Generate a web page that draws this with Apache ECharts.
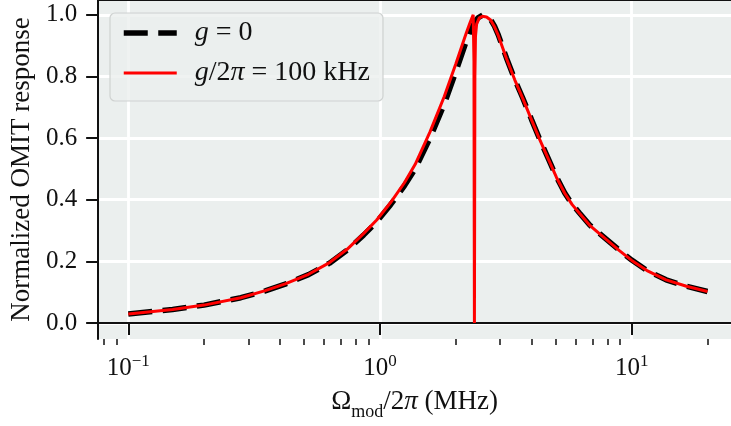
<!DOCTYPE html>
<html>
<head>
<meta charset="utf-8">
<script src="https://cdn.jsdelivr.net/npm/echarts@6/dist/echarts.min.js"></script>
<style>
  html, body { margin: 0; padding: 0; background: #ffffff; }
  #chart { width: 731px; height: 426px; }
</style>
</head>
<body>
<div id="chart"></div>
<script>
// Modulation frequency (MHz) and normalized OMIT response, uncoupled case
const freqG0 = [0.1, 0.15, 0.2, 0.28, 0.35, 0.42, 0.52, 0.63, 0.74, 0.86,
  0.97, 1.1, 1.25, 1.38, 1.58, 1.8, 2.0, 2.2, 2.3, 2.4,
  2.45, 2.57, 2.65, 2.75, 2.85, 2.95, 3.18, 3.43, 3.69, 4.0,
  4.29, 4.7, 5.02, 5.42, 5.8, 6.2, 6.81, 7.46, 8.96, 10, 11.5,
  13.7, 16.5, 20];
const respG0 = [0.029, 0.044, 0.058, 0.082, 0.104, 0.126, 0.157, 0.194, 0.236, 0.285,
  0.328, 0.383, 0.445, 0.500, 0.600, 0.710, 0.815, 0.913, 0.955, 0.980,
  0.990, 1.000, 0.995, 0.985, 0.963, 0.935, 0.860, 0.790, 0.730, 0.660,
  0.600, 0.527, 0.474, 0.422, 0.385, 0.357, 0.318, 0.290, 0.235, 0.204, 0.170,
  0.140, 0.119, 0.102];

// Same quantity with g/2π = 100 kHz (narrow dip near 2.37 MHz)
const freqG100 = [0.1, 0.15, 0.2, 0.28, 0.35, 0.42, 0.52, 0.63, 0.74, 0.86,
  0.97, 1.1, 1.25, 1.38, 1.58, 1.8, 2.0, 2.2, 2.28, 2.345,
  2.362, 2.368, 2.372, 2.376, 2.382, 2.395, 2.42, 2.48, 2.55, 2.65,
  2.75, 2.85, 2.95, 3.18, 3.43, 3.69, 4.0, 4.29, 4.7, 5.02,
  5.42, 5.8, 6.2, 6.81, 7.46, 8.96, 10, 11.5, 13.7, 16.5, 20];
const respG100 = [0.029, 0.044, 0.058, 0.082, 0.105, 0.127, 0.158, 0.196, 0.239, 0.290,
  0.334, 0.390, 0.455, 0.515, 0.620, 0.735, 0.840, 0.940, 0.975, 1.000,
  0.850, 0.300, 0.000, 0.300, 0.800, 0.930, 0.970, 0.990, 0.995, 0.993,
  0.983, 0.961, 0.933, 0.858, 0.789, 0.729, 0.659, 0.599, 0.526, 0.473,
  0.421, 0.384, 0.356, 0.317, 0.289, 0.234, 0.203, 0.170, 0.140, 0.119, 0.102];

const seriesNames = ['g = 0', 'g/2π = 100 kHz'];
const majorTicksX = [0.1, 1, 10];
const minorTicksX = [0.08, 0.09, 0.2, 0.3, 0.4, 0.5, 0.6, 0.7, 0.8, 0.9,
  2, 3, 4, 5, 6, 7, 8, 9, 20];
const ticksY = [0, 0.2, 0.4, 0.6, 0.8, 1.0];

// ---- styling ----
const SERIF = '"Liberation Serif", "Times New Roman", serif';
const INK = '#111111';
const PANEL = '#ebefee';
const X_MIN = 0.0759, X_MAX = 24.8;
const Y_MIN = -0.052, Y_MAX = 1.048;

const mathRich = {
  r: { fontFamily: SERIF, fontSize: 27, color: INK },
  i: { fontFamily: SERIF, fontSize: 27, color: INK, fontStyle: 'italic' },
  sub: { fontFamily: SERIF, fontSize: 18, color: INK, verticalAlign: 'bottom', padding: [0, 0, -6, 0] }
};

const legendText = {
  'g = 0': '{i|g} = 0',
  'g/2π = 100 kHz': '{i|g}/2{i|π} = 100 kHz'
};

function powerLabel(v) {
  const e = Math.round(Math.log10(v));
  return '{b|10}{s|' + String(e).replace('-', '\u2212') + '}';
}

const chart = echarts.init(document.getElementById('chart'), null, { renderer: 'canvas' });

chart.setOption({
  animation: false,
  backgroundColor: '#ffffff',
  grid: {
    left: 97, right: 0, top: 0, bottom: 85,
    show: true, backgroundColor: PANEL, borderWidth: 0
  },
  legend: {
    orient: 'vertical', left: 110, top: 13,
    itemWidth: 53, itemHeight: 26, itemGap: 12,
    padding: [6, 13, 14, 11],
    backgroundColor: 'rgba(235,239,238,0.8)',
    borderColor: '#cfd2d1', borderWidth: 1.2, borderRadius: 5,
    selectedMode: false,
    data: seriesNames,
    // line sample only, no marker
    itemStyle: { opacity: 0, borderWidth: 0 },
    lineStyle: { width: 'inherit', opacity: 1 },
    formatter: name => legendText[name],
    textStyle: {
      fontFamily: SERIF, fontSize: 28, color: INK, lineHeight: 26,
      padding: [0, 0, 0, 13],
      rich: {
        i: { fontFamily: SERIF, fontSize: 28, color: INK, fontStyle: 'italic', lineHeight: 26 }
      }
    }
  },
  xAxis: [
    {
      type: 'log', logBase: 10, min: X_MIN, max: X_MAX, position: 'bottom',
      axisLine: { show: true, lineStyle: { color: INK, width: 2 } },
      axisTick: { show: true, customValues: majorTicksX, length: 12, lineStyle: { color: INK, width: 2 } },
      minorTick: { show: false },
      axisLabel: {
        show: true, customValues: majorTicksX, margin: 14,
        formatter: powerLabel,
        rich: {
          b: { fontFamily: SERIF, fontSize: 25, color: INK, lineHeight: 30 },
          s: { fontFamily: SERIF, fontSize: 17, color: INK, verticalAlign: 'top', lineHeight: 22 }
        }
      },
      splitLine: { show: true, lineStyle: { color: '#ffffff', width: 2.8 } },
      name: '{r|Ω}{sub|mod}{r|/2}{i|π}{r| (MHz)}',
      nameLocation: 'middle', nameGap: 49,
      nameTextStyle: { rich: mathRich }
    },
    {
      // minor ticks of the log axis
      type: 'log', logBase: 10, min: X_MIN, max: X_MAX, position: 'bottom',
      axisLine: { show: false },
      axisTick: { show: true, customValues: minorTicksX, length: 6, lineStyle: { color: INK, width: 1.5 } },
      axisLabel: { show: false },
      splitLine: { show: false }
    },
    {
      // upper frame line
      type: 'value', min: 0, max: 1, position: 'top',
      axisLine: { show: true, lineStyle: { color: INK, width: 2 } },
      axisTick: { show: false }, axisLabel: { show: false }, splitLine: { show: false }
    }
  ],
  yAxis: {
    type: 'value', min: Y_MIN, max: Y_MAX,
    axisLine: { show: true, lineStyle: { color: INK, width: 2 } },
    axisTick: { show: true, customValues: ticksY, length: 12, lineStyle: { color: INK, width: 2 } },
    axisLabel: {
      customValues: ticksY, margin: 21,
      formatter: v => v.toFixed(1),
      fontFamily: SERIF, fontSize: 25, color: INK, padding: [8, 0, 0, 0]
    },
    splitLine: { show: true, lineStyle: { color: '#ffffff', width: 2.8 } },
    name: 'Normalized OMIT response',
    nameLocation: 'middle', nameGap: 62, nameRotate: 90,
    nameTextStyle: { fontFamily: SERIF, fontSize: 27, color: INK }
  },
  series: [
    {
      name: seriesNames[0], type: 'line', xAxisIndex: 0, yAxisIndex: 0,
      data: freqG0.map((f, i) => [f, respG0[i]]),
      symbol: 'none', showSymbol: false, z: 2,
      itemStyle: { color: '#000000' },
      lineStyle: { color: '#000000', width: 5.5, type: [24, 10.5], cap: 'butt' }
    },
    {
      name: seriesNames[1], type: 'line', xAxisIndex: 0, yAxisIndex: 0,
      data: freqG100.map((f, i) => [f, respG100[i]]),
      symbol: 'none', showSymbol: false, z: 3,
      itemStyle: { color: '#ff0000' },
      lineStyle: { color: '#ff0000', width: 3 }
    }
  ]
});
</script>
</body>
</html>
